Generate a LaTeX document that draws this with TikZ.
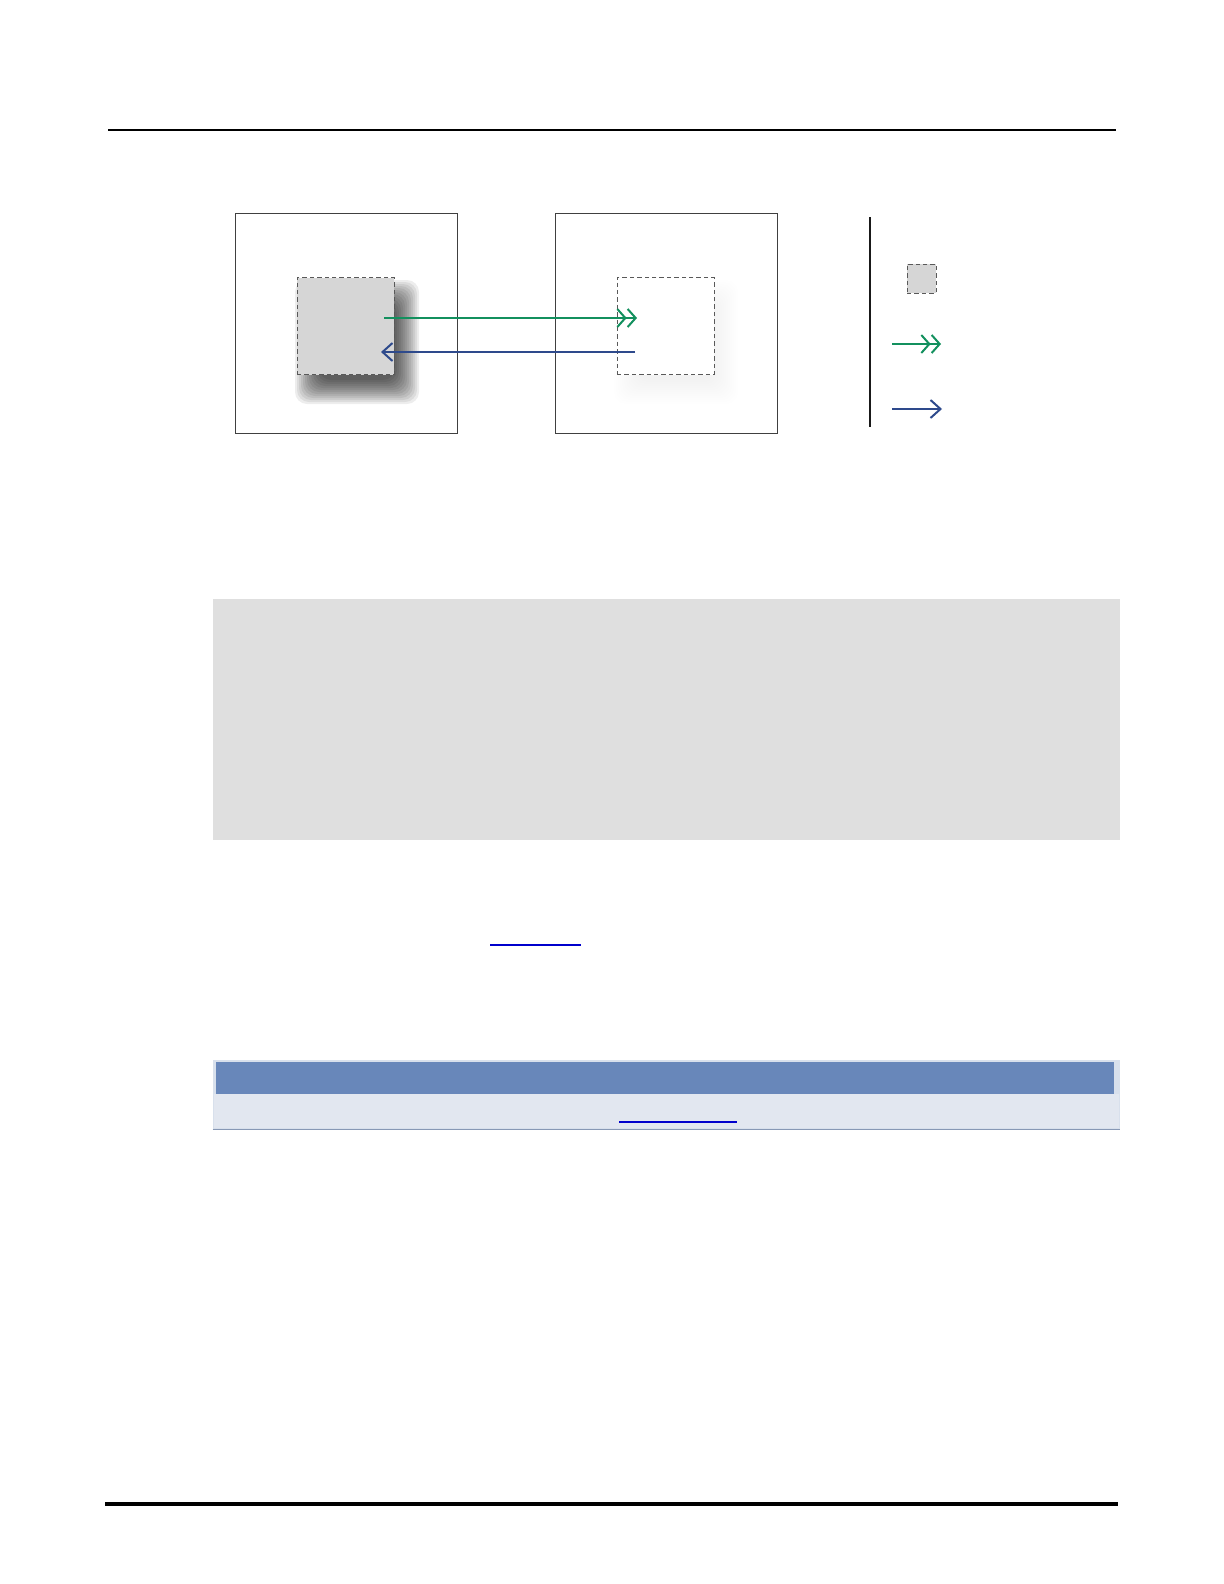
\documentclass[tikz,border=0pt]{standalone}
\usetikzlibrary{arrows.meta}
\definecolor{fwdgreen}{HTML}{13905E}
\definecolor{backblue}{HTML}{2E4A8C}
\definecolor{panelgray}{HTML}{DFDFDF}
\definecolor{blockgray}{HTML}{D6D6D6}
\definecolor{headblue}{HTML}{6887BA}
\definecolor{rowblue}{HTML}{E2E7F0}
\definecolor{rimblue}{HTML}{D8E0EC}
\definecolor{linkblue}{HTML}{0000CC}
\tikzset{
  frame/.style={draw=black!75, line width=0.5pt, minimum width=111pt, minimum height=110pt, inner sep=0pt},
  block/.style={draw=black!65, dash pattern=on 2.2pt off 1.5pt, line width=0.5pt, inner sep=0pt},
  fwd/.style={draw=fwdgreen, line width=0.85pt, -{Straight Barb[length=4pt,width=9pt,line width=1pt] Straight Barb[length=4pt,width=9pt,line width=1pt]}},
  back/.style={draw=backblue, line width=0.85pt, -{Straight Barb[length=5pt,width=9pt,line width=1pt]}}
}
\begin{document}
\begin{tikzpicture}[x=0.5pt,y=-0.5pt]
  \useasboundingbox[fill=white] (0,0) rectangle (1224,1584);
  % page rules
  \draw[line width=1pt] (108,130) -- (1116,130);
  \draw[line width=2pt] (105,1504) -- (1118,1504);

  % the two frames
  \node[frame] (leftframe) at (346,323) {};
  \node[frame] (rightframe) at (666,323) {};
  % soft shadows
  \foreach \i in {0,...,12} {
    \fill[black, opacity=0.07, rounded corners=6pt] (295+2*\i,280+2*\i) rectangle (419-2*\i,404-2*\i);
    \fill[black, opacity=0.0035, rounded corners=6pt] (614+2*\i,280+2*\i) rectangle (738-2*\i,404-2*\i);
  }
  \node[block, fill=blockgray, minimum size=48.5pt] (srcblock) at (345.5,326) {};
  \node[block, fill=white, minimum size=48.5pt] (dstblock) at (665.5,326) {};
  \coordinate (fwdtail) at (384,318);
  \coordinate (fwdhead) at (637,318);
  \coordinate (backtail) at (635,352);
  \coordinate (backhead) at (381,352);
  \draw[fwd] (fwdtail) -- (fwdhead);
  \draw[back] (backtail) -- (backhead);

  % legend
  \coordinate (legtop) at (870,217);
  \coordinate (legbot) at (870,427);
  \draw[line width=1pt, black!90] (legtop) -- (legbot);
  \node[block, fill=blockgray, minimum size=14.5pt] (legblock) at (921.5,278.5) {};
  \coordinate (legfwdA) at (892,344);
  \coordinate (legfwdB) at (941,344);
  \coordinate (legbackA) at (892,409);
  \coordinate (legbackB) at (942,409);
  \draw[fwd] (legfwdA) -- (legfwdB);
  \draw[back] (legbackA) -- (legbackB);

  % gray panel
  \node[fill=panelgray, minimum width=453.5pt, minimum height=120.5pt, inner sep=0pt] (panel) at (666.5,719.5) {};

  % link
  \draw[linkblue, line width=0.6pt] (490,945) -- (581,945);

  % table
  \node[fill=rimblue, minimum width=453.5pt, minimum height=34.5pt, inner sep=0pt] (tablerim) at (666.5,1094.75) {};
  \node[fill=headblue, minimum width=449pt, minimum height=16pt, inner sep=0pt] (tablehead) at (665,1078) {};
  \node[fill=rowblue, minimum width=452.5pt, minimum height=17pt, inner sep=0pt] (tablerow) at (666,1111) {};
  \draw[line width=0.8pt, color=headblue!80!black!70] (tablerim.south west) -- (tablerim.south east);
  \draw[linkblue, line width=1pt] (619,1122) -- (737,1122);
\end{tikzpicture}
\end{document}
